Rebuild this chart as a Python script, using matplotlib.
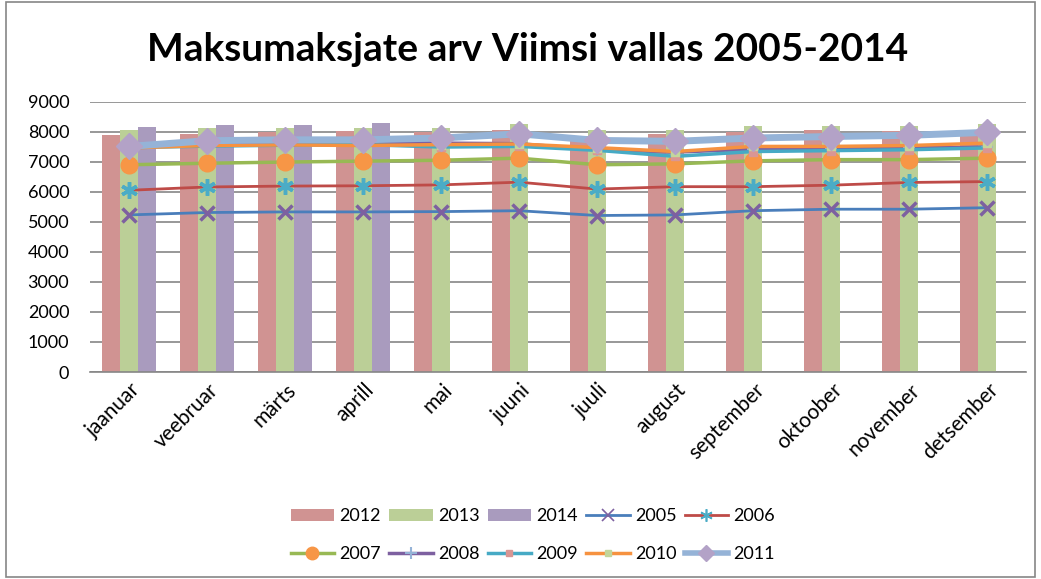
import numpy as np
import matplotlib.pyplot as plt
from matplotlib.patches import Rectangle
import matplotlib.transforms as mtransforms

plt.rcParams['font.family'] = ['Lato', 'DejaVu Sans']

months = ['jaanuar', 'veebruar', 'märts', 'aprill', 'mai', 'juuni', 'juuli',
          'august', 'september', 'oktoober', 'november', 'detsember']

# bar series
v2012 = [7900, 7910, 7990, 8010, 7980, 8045, 7870, 7910, 8000, 8070, 8030, 8030]
v2013 = [8070, 8130, 8130, 8130, 8130, 8270, 8070, 8070, 8200, 8200, 8200, 8270]
v2014 = [8170, 8210, 8210, 8300]

# line series
v2005 = [5230, 5310, 5330, 5330, 5340, 5370, 5210, 5230, 5370, 5420, 5420, 5470]
v2006 = [6050, 6160, 6190, 6200, 6230, 6320, 6090, 6170, 6170, 6220, 6310, 6340]
v2007 = [6900, 6950, 6990, 7020, 7050, 7120, 6900, 6930, 7030, 7070, 7070, 7120]
v2008 = [7520, 7580, 7600, 7620, 7620, 7600, 7400, 7320, 7420, 7460, 7460, 7490]
v2009 = [7470, 7520, 7550, 7570, 7490, 7510, 7380, 7180, 7340, 7370, 7400, 7460]
v2010 = [7460, 7540, 7560, 7540, 7570, 7590, 7470, 7340, 7510, 7510, 7540, 7620]
v2011 = [7510, 7700, 7730, 7730, 7790, 7930, 7710, 7680, 7790, 7840, 7880, 7980]

x = np.arange(len(months))
w = 0.227

fig = plt.figure(figsize=(10.41, 5.79), dpi=100)
ax = fig.add_axes([0.0865, 0.3575, 0.8991, 0.4669])

b12 = ax.bar(x - w, v2012, w, color='#D09392', label='2012', zorder=2)
b13 = ax.bar(x, v2013, w, color='#BBCF97', label='2013', zorder=2)
b14 = ax.bar(x[:len(v2014)] + w, v2014, w, color='#A99BBE', label='2014', zorder=2)

l05, = ax.plot(x, v2005, color='#4A7EBB', lw=2, marker='x', ms=10, mew=2.5,
               mec='#7D60A0', label='2005', zorder=3)
l06, = ax.plot(x, v2006, color='#BE4B48', lw=2, marker=(6, 2, 0), ms=12, mew=2.5,
               mec='#4BACC6', label='2006', zorder=3)
l07, = ax.plot(x, v2007, color='#98B954', lw=2.5, marker='o', ms=12,
               mfc='#F79646', mec='#F79646', label='2007', zorder=3)
l08, = ax.plot(x, v2008, color='#7D60A0', lw=2.5, marker='+', ms=9, mew=1.5,
               mec='#95B3D7', label='2008', zorder=3)
l09, = ax.plot(x, v2009, color='#46AAC5', lw=2.5, marker='s', ms=6,
               mfc='#D99694', mec='#D99694', label='2009', zorder=3)
l10, = ax.plot(x, v2010, color='#F69240', lw=2.5, marker='s', ms=6,
               mfc='#C3D69B', mec='#C3D69B', label='2010', zorder=3)
l11, = ax.plot(x, v2011, color='#95B3D7', lw=5, marker='D', ms=13,
               mfc='#B3A2C7', mec='#B3A2C7', label='2011', zorder=4)

ax.set_xlim(-0.5, len(months) - 0.5)
ax.set_ylim(0, 9000)
ax.set_yticks(np.arange(0, 9001, 1000))
ax.yaxis.grid(True, color='#868686', lw=1.2, zorder=0)
ax.set_axisbelow(True)
for s in ['top', 'right', 'left']:
    ax.spines[s].set_visible(False)
ax.spines['bottom'].set_color('#868686')
ax.spines['bottom'].set_linewidth(1.2)
ax.tick_params(axis='both', length=0)
ax.tick_params(axis='y', pad=15, labelsize=13)

ax.set_xticks(x)
ax.set_xticklabels(months, rotation=45, ha='right', va='center',
                   rotation_mode='anchor', fontsize=15)
offset = mtransforms.ScaledTranslation(0.08, -0.1, fig.dpi_scale_trans)
for lab in ax.get_xticklabels():
    lab.set_transform(lab.get_transform() + offset)

fig.text(0.507, 0.915, 'Maksumaksjate arv Viimsi vallas 2005-2014',
         ha='center', va='center', fontsize=28, fontweight='bold')

handles = [b12, l07, b13, l08, b14, l09, l05, l10, l06, l11]
leg = fig.legend(handles=handles, labels=[h.get_label() for h in handles],
                 loc='center', bbox_to_anchor=(0.512, 0.076), ncol=5, frameon=False,
                 fontsize=13, handlelength=2.4, columnspacing=0.45, handletextpad=0.3,
                 labelspacing=1.2)

# smaller markers in the legend, like the original
legend_ms = {'2005': 8, '2006': 9, '2007': 9, '2008': 8, '2009': 4, '2010': 4, '2011': 8}
for h, t in zip(leg.legend_handles, leg.get_texts()):
    if t.get_text() in legend_ms:
        h.set_markersize(legend_ms[t.get_text()])
        if t.get_text() in ('2005', '2006'):
            h.set_markeredgewidth(1.2)
        if t.get_text() == '2011':
            h.set_linewidth(4)

fig.patches.append(Rectangle((0.006, 0.003), 0.988, 0.994, transform=fig.transFigure,
                             fill=False, edgecolor='#868686', lw=1.2))

fig.savefig('out.png', dpi=100)
